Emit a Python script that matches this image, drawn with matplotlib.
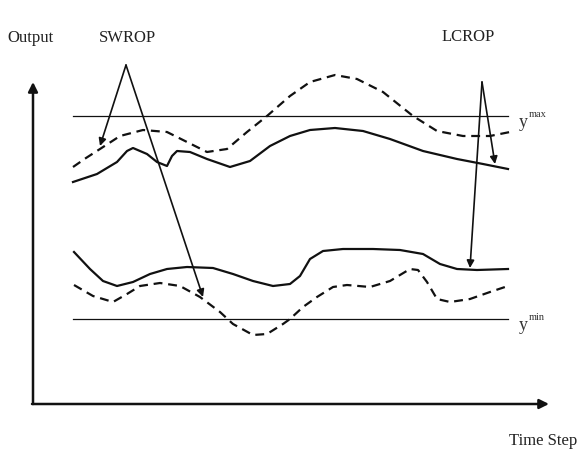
import numpy as np
import matplotlib.pyplot as plt

# schematic curves in pixel coordinates (x, y down)
upper_dashed_x = [73, 86, 100, 120, 143, 167, 187, 207, 227, 247, 267, 290, 310, 335, 357, 383, 413, 437, 463, 490, 510]
upper_dashed_y = [168, 159, 150, 137, 131, 133, 143, 153, 150, 133, 117, 97, 83, 76, 80, 93, 117, 132, 137, 137, 133]

upper_solid_x = [73, 97, 117, 127, 133, 147, 157, 167, 172, 177, 190, 207, 230, 250, 270, 290, 310, 335, 363, 390, 423, 457, 483, 508]
upper_solid_y = [183, 175, 163, 152, 149, 155, 163, 167, 157, 152, 153, 160, 168, 162, 147, 137, 131, 129, 132, 140, 152, 160, 165, 170]

lower_solid_x = [74, 90, 103, 117, 133, 150, 167, 187, 213, 233, 253, 273, 290, 300, 310, 323, 343, 373, 400, 423, 440, 457, 477, 508]
lower_solid_y = [253, 270, 282, 287, 283, 275, 270, 268, 269, 275, 282, 287, 285, 277, 260, 252, 250, 250, 251, 255, 265, 270, 271, 270]

lower_dashed_x = [74, 93, 113, 127, 140, 160, 180, 200, 220, 233, 253, 267, 283, 290, 303, 317, 333, 347, 370, 390, 410, 418, 427, 437, 450, 470, 490, 508]
lower_dashed_y = [286, 297, 303, 295, 287, 284, 287, 298, 313, 325, 336, 335, 325, 320, 308, 298, 288, 286, 288, 282, 270, 271, 283, 300, 303, 300, 293, 287]

y_max_level = 117
y_min_level = 320
limit_x = [73, 508]

# annotation pointers: label apex -> target
swrop_apex = (126, 66)
swrop_targets = [(100, 147), (203, 298)]
lcrop_apex = (482, 83)
lcrop_targets = [(495, 165), (470, 269)]

fig = plt.figure(figsize=(5.81, 4.56), dpi=100)
ax = fig.add_axes([0, 0, 1, 1])
ax.set_xlim(0, 581)
ax.set_ylim(456, 0)
ax.axis('off')

serif = 'Liberation Serif'
ink = '#111111'

# axes arrows
ax.annotate('', xy=(33, 83), xytext=(33, 405),
            arrowprops=dict(arrowstyle='-|>', color=ink, lw=1.8, mutation_scale=14, shrinkA=0, shrinkB=0))
ax.annotate('', xy=(549, 405), xytext=(32, 405),
            arrowprops=dict(arrowstyle='-|>', color=ink, lw=1.8, mutation_scale=14, shrinkA=0, shrinkB=0))

# limit lines
ax.plot(limit_x, [y_max_level, y_max_level], color=ink, lw=0.9)
ax.plot(limit_x, [y_min_level, y_min_level], color=ink, lw=0.9)

# curves
ax.plot(upper_dashed_x, upper_dashed_y, color=ink, lw=1.6, linestyle=(0, (4, 2.6)))
ax.plot(upper_solid_x, upper_solid_y, color=ink, lw=1.6)
ax.plot(lower_solid_x, lower_solid_y, color=ink, lw=1.6)
ax.plot(lower_dashed_x, lower_dashed_y, color=ink, lw=1.6, linestyle=(0, (4, 2.6)))

# pointers
for apex, targets in [(swrop_apex, swrop_targets), (lcrop_apex, lcrop_targets)]:
    for t in targets:
        ax.annotate('', xy=t, xytext=apex,
                    arrowprops=dict(arrowstyle='-|>', color=ink, lw=1.2, mutation_scale=11, shrinkA=0, shrinkB=0))

# labels
ax.text(30, 38, 'Output', fontfamily=serif, fontsize=12, ha='center', va='center', color='#222222')
ax.text(127, 38, 'SWROP', fontfamily=serif, fontsize=12, ha='center', va='center', color='#222222')
ax.text(468, 37, 'LCROP', fontfamily=serif, fontsize=12, ha='center', va='center', color='#222222')
ax.text(543, 441, 'Time Step', fontfamily=serif, fontsize=12, ha='center', va='center', color='#222222')

ax.text(519, 127, 'y', fontfamily=serif, fontsize=13, ha='left', va='baseline', color='#333333')
ax.text(529, 117, 'max', fontfamily=serif, fontsize=7.5, ha='left', va='baseline', color='#333333')
ax.text(519, 330, 'y', fontfamily=serif, fontsize=13, ha='left', va='baseline', color='#333333')
ax.text(529, 320, 'min', fontfamily=serif, fontsize=7.5, ha='left', va='baseline', color='#333333')

fig.savefig('out.png', dpi=100)
